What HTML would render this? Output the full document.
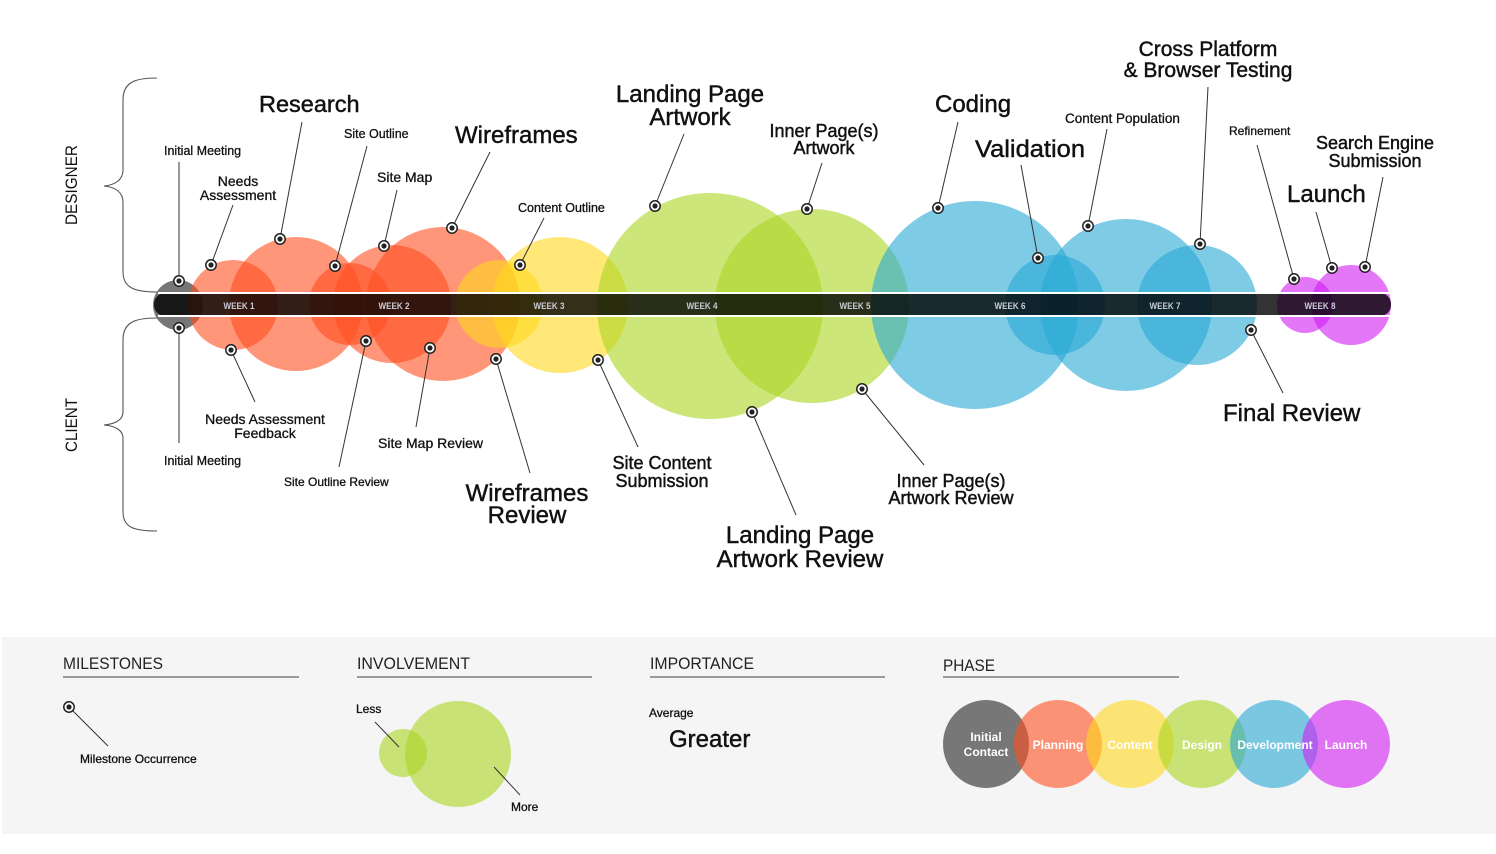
<!DOCTYPE html>
<html>
<head>
<meta charset="utf-8">
<style>
  html,body{margin:0;padding:0;background:#fff;}
  svg{display:block;}
  text{font-family:"Liberation Sans",sans-serif;fill:#111;}
  .lb text{stroke:#111;stroke-width:0.45;}
  .sm text{stroke:#111;stroke-width:0.3;}
</style>
</head>
<body>
<svg width="1496" height="854" viewBox="0 0 1496 854" xmlns="http://www.w3.org/2000/svg">
  <defs>
    <g id="m">
      <circle r="5.2" fill="#fff" stroke="#222" stroke-width="1.5"/>
      <circle r="2.6" fill="#222"/>
    </g>
  </defs>

  <!-- braces -->
  <path d="M157,78 C135,78 123,82 123,100 L123,170 C123,180 115,185 104,186 C115,187 123,192 123,202 L123,272 C123,288 135,292 157,292" fill="none" stroke="#555" stroke-width="1.1"/>
  <path d="M157,318 C135,318 123,322 123,340 L123,412 C123,420 115,424 104,425 C115,426 123,430 123,438 L123,512 C123,528 135,531 157,531" fill="none" stroke="#555" stroke-width="1.1"/>
  <text transform="translate(77,185) rotate(-90)" text-anchor="middle" font-size="17" textLength="80" lengthAdjust="spacingAndGlyphs">DESIGNER</text>
  <text transform="translate(77,425) rotate(-90)" text-anchor="middle" font-size="17" textLength="54" lengthAdjust="spacingAndGlyphs">CLIENT</text>

  <!-- circles -->
  <circle cx="178" cy="305" r="25" fill="#777"/>
  <g fill="#ff4f1f">
    <circle cx="233" cy="305" r="45" fill-opacity="0.6"/>
    <circle cx="296" cy="304" r="67" fill-opacity="0.6"/>
    <circle cx="350" cy="304" r="41" fill-opacity="0.6"/>
    <circle cx="392" cy="304" r="59" fill-opacity="0.6"/>
    <circle cx="443" cy="304" r="77" fill-opacity="0.6"/>
  </g>
  <g fill="#ffd91c">
    <circle cx="499" cy="304" r="44" fill-opacity="0.6"/>
    <circle cx="560" cy="305" r="68" fill-opacity="0.6"/>
  </g>
  <g fill="#aad521">
    <circle cx="710" cy="306" r="113" fill-opacity="0.6"/>
    <circle cx="812" cy="306" r="97" fill-opacity="0.6"/>
  </g>
  <g fill="#28a8d5">
    <circle cx="975" cy="305" r="104" fill-opacity="0.6"/>
    <circle cx="1055" cy="305" r="50" fill-opacity="0.6"/>
    <circle cx="1126" cy="305" r="86" fill-opacity="0.6"/>
    <circle cx="1197" cy="305" r="60" fill-opacity="0.6"/>
  </g>
  <g fill="#d01cf3">
    <circle cx="1305" cy="305" r="28" fill-opacity="0.6"/>
    <circle cx="1351" cy="305" r="40" fill-opacity="0.6"/>
  </g>

  <!-- bar -->
  <rect x="154" y="293" width="1237" height="23" rx="11" ry="11" fill="#000" fill-opacity="0.8"/>
  <rect x="158" y="292" width="1233" height="2" fill="#fff"/>
  <rect x="158" y="315" width="1233" height="2" fill="#fff"/>
  <g font-size="9.5" font-weight="bold" text-anchor="middle">
    <text x="239" y="309" textLength="31" lengthAdjust="spacingAndGlyphs" style="fill:#c9ccd6">WEEK 1</text>
    <text x="394" y="309" textLength="31" lengthAdjust="spacingAndGlyphs" style="fill:#c9ccd6">WEEK 2</text>
    <text x="549" y="309" textLength="31" lengthAdjust="spacingAndGlyphs" style="fill:#c9ccd6">WEEK 3</text>
    <text x="702" y="309" textLength="31" lengthAdjust="spacingAndGlyphs" style="fill:#c9ccd6">WEEK 4</text>
    <text x="855" y="309" textLength="31" lengthAdjust="spacingAndGlyphs" style="fill:#c9ccd6">WEEK 5</text>
    <text x="1010" y="309" textLength="31" lengthAdjust="spacingAndGlyphs" style="fill:#c9ccd6">WEEK 6</text>
    <text x="1165" y="309" textLength="31" lengthAdjust="spacingAndGlyphs" style="fill:#c9ccd6">WEEK 7</text>
    <text x="1320" y="309" textLength="31" lengthAdjust="spacingAndGlyphs" style="fill:#c9ccd6">WEEK 8</text>
  </g>

  <!-- connectors -->
  <g stroke="#333" stroke-width="1" fill="none">
    <line x1="179" y1="162" x2="179" y2="281"/>
    <line x1="233" y1="205" x2="211" y2="265"/>
    <line x1="302" y1="122" x2="280" y2="239"/>
    <line x1="367" y1="146" x2="335" y2="266"/>
    <line x1="397" y1="190" x2="384" y2="246"/>
    <line x1="490" y1="152" x2="452" y2="228"/>
    <line x1="544" y1="218" x2="520" y2="265"/>
    <line x1="684" y1="134" x2="655" y2="206"/>
    <line x1="822" y1="163" x2="807" y2="209"/>
    <line x1="958" y1="122" x2="938" y2="208"/>
    <line x1="1021" y1="165" x2="1038" y2="258"/>
    <line x1="1107" y1="129" x2="1088" y2="226"/>
    <line x1="1208" y1="87" x2="1200" y2="244"/>
    <line x1="1257" y1="145" x2="1294" y2="279"/>
    <line x1="1316" y1="212" x2="1332" y2="268"/>
    <line x1="1383" y1="177" x2="1365" y2="267"/>

    <line x1="231" y1="350" x2="255" y2="402"/>
    <line x1="366" y1="341" x2="339" y2="467"/>
    <line x1="430" y1="348" x2="416" y2="427"/>
    <line x1="496" y1="359" x2="530" y2="473"/>
    <line x1="598" y1="360" x2="638" y2="447"/>
    <line x1="752" y1="412" x2="796" y2="515"/>
    <line x1="862" y1="389" x2="924" y2="465"/>
    <line x1="1251" y1="330" x2="1283" y2="393"/>
  </g>
  <line x1="179" y1="328" x2="179" y2="443" stroke="#999" stroke-width="2"/>

  <!-- markers -->
  <use href="#m" x="179" y="281"/>
  <use href="#m" x="211" y="265"/>
  <use href="#m" x="280" y="239"/>
  <use href="#m" x="335" y="266"/>
  <use href="#m" x="384" y="246"/>
  <use href="#m" x="452" y="228"/>
  <use href="#m" x="520" y="265"/>
  <use href="#m" x="655" y="206"/>
  <use href="#m" x="807" y="209"/>
  <use href="#m" x="938" y="208"/>
  <use href="#m" x="1038" y="258"/>
  <use href="#m" x="1088" y="226"/>
  <use href="#m" x="1200" y="244"/>
  <use href="#m" x="1294" y="279"/>
  <use href="#m" x="1332" y="268"/>
  <use href="#m" x="1365" y="267"/>

  <use href="#m" x="179" y="328"/>
  <use href="#m" x="231" y="350"/>
  <use href="#m" x="366" y="341"/>
  <use href="#m" x="430" y="348"/>
  <use href="#m" x="496" y="359"/>
  <use href="#m" x="598" y="360"/>
  <use href="#m" x="752" y="412"/>
  <use href="#m" x="862" y="389"/>
  <use href="#m" x="1251" y="330"/>

  <!-- designer labels -->
  <g class="sm">
    <text x="164" y="155" font-size="12.5">Initial Meeting</text>
    <text x="238" y="186" font-size="14" text-anchor="middle">Needs</text>
    <text x="238" y="200" font-size="14" text-anchor="middle">Assessment</text>
    <text x="344" y="138" font-size="12.5">Site Outline</text>
    <text x="377" y="182" font-size="14">Site Map</text>
    <text x="518" y="212" font-size="12.5">Content Outline</text>
    <text x="1065" y="123" font-size="13.5">Content Population</text>
    <text x="1229" y="135" font-size="12">Refinement</text>
  </g>
  <g class="lb">
    <text x="259" y="112" font-size="23.5">Research</text>
    <text x="455" y="143" font-size="24">Wireframes</text>
    <text x="690" y="102" font-size="24" text-anchor="middle">Landing Page</text>
    <text x="690" y="125" font-size="24" text-anchor="middle">Artwork</text>
    <text x="824" y="137" font-size="18" text-anchor="middle">Inner Page(s)</text>
    <text x="824" y="154" font-size="18" text-anchor="middle">Artwork</text>
    <text x="935" y="112" font-size="24">Coding</text>
    <text x="975" y="157" font-size="24" textLength="110" lengthAdjust="spacingAndGlyphs">Validation</text>
    <text x="1208" y="56" font-size="21" text-anchor="middle">Cross Platform</text>
    <text x="1208" y="77" font-size="21" text-anchor="middle">&amp; Browser Testing</text>
    <text x="1375" y="149" font-size="18" text-anchor="middle">Search Engine</text>
    <text x="1375" y="167" font-size="18" text-anchor="middle">Submission</text>
    <text x="1287" y="202" font-size="24">Launch</text>
  </g>

  <!-- client labels -->
  <g class="sm">
    <text x="164" y="465" font-size="12.5">Initial Meeting</text>
    <text x="265" y="424" font-size="14" text-anchor="middle">Needs Assessment</text>
    <text x="265" y="438" font-size="14" text-anchor="middle">Feedback</text>
    <text x="284" y="486" font-size="12">Site Outline Review</text>
    <text x="378" y="448" font-size="14">Site Map Review</text>
  </g>
  <g class="lb">
    <text x="527" y="501" font-size="24" text-anchor="middle">Wireframes</text>
    <text x="527" y="523" font-size="24" text-anchor="middle">Review</text>
    <text x="662" y="469" font-size="18" text-anchor="middle">Site Content</text>
    <text x="662" y="487" font-size="18" text-anchor="middle">Submission</text>
    <text x="800" y="543" font-size="24" text-anchor="middle">Landing Page</text>
    <text x="800" y="567" font-size="24" text-anchor="middle">Artwork Review</text>
    <text x="951" y="487" font-size="18" text-anchor="middle">Inner Page(s)</text>
    <text x="951" y="504" font-size="18" text-anchor="middle">Artwork Review</text>
    <text x="1223" y="421" font-size="24">Final Review</text>
  </g>

  <!-- legend -->
  <rect x="2" y="637" width="1494" height="197" fill="#f5f5f5"/>
  <text x="63" y="669" font-size="17" textLength="100" lengthAdjust="spacingAndGlyphs" style="fill:#222">MILESTONES</text>
  <text x="357" y="669" font-size="17" textLength="113" lengthAdjust="spacingAndGlyphs" style="fill:#222">INVOLVEMENT</text>
  <text x="650" y="669" font-size="17" textLength="104" lengthAdjust="spacingAndGlyphs" style="fill:#222">IMPORTANCE</text>
  <text x="943" y="671" font-size="17" textLength="52" lengthAdjust="spacingAndGlyphs" style="fill:#222">PHASE</text>
  <rect x="63" y="676" width="236" height="2" fill="#9a9a9a"/>
  <rect x="357" y="676" width="235" height="2" fill="#9a9a9a"/>
  <rect x="650" y="676" width="235" height="2" fill="#9a9a9a"/>
  <rect x="943" y="676" width="236" height="2" fill="#9a9a9a"/>

  <line x1="69" y1="707" x2="108" y2="746" stroke="#333" stroke-width="1"/>
  <use href="#m" x="69" y="707"/>

  <circle cx="403" cy="753" r="24" fill="#aad521" fill-opacity="0.6"/>
  <circle cx="458" cy="754" r="53" fill="#aad521" fill-opacity="0.6"/>
  <line x1="375" y1="722" x2="399" y2="747" stroke="#333" stroke-width="1"/>
  <line x1="494" y1="767" x2="520" y2="795" stroke="#333" stroke-width="1"/>

  <g class="sm">
    <text x="80" y="763" font-size="12">Milestone Occurrence</text>
    <text x="356" y="713" font-size="12">Less</text>
    <text x="511" y="811" font-size="12">More</text>
    <text x="649" y="717" font-size="12">Average</text>
  </g>
  <g class="lb">
    <text x="669" y="747" font-size="24">Greater</text>
  </g>

  <ellipse cx="986" cy="744" rx="43" ry="44" fill="#777"/>
  <ellipse cx="1058" cy="744" rx="44" ry="44" fill="#ff4f1f" fill-opacity="0.6"/>
  <ellipse cx="1130" cy="744" rx="44" ry="44" fill="#ffd91c" fill-opacity="0.6"/>
  <ellipse cx="1202" cy="744" rx="44" ry="44" fill="#aad521" fill-opacity="0.6"/>
  <ellipse cx="1274" cy="744" rx="44" ry="44" fill="#28a8d5" fill-opacity="0.6"/>
  <ellipse cx="1346" cy="744" rx="44" ry="44" fill="#d01cf3" fill-opacity="0.6"/>
  <g font-size="12" font-weight="bold" text-anchor="middle">
    <text x="986" y="741" style="fill:#fff">Initial</text>
    <text x="986" y="756" style="fill:#fff">Contact</text>
    <text x="1058" y="749" style="fill:#fff">Planning</text>
    <text x="1130" y="749" style="fill:#fff">Content</text>
    <text x="1202" y="749" style="fill:#fff">Design</text>
    <text x="1275" y="749" style="fill:#fff">Development</text>
    <text x="1346" y="749" style="fill:#fff">Launch</text>
  </g>
</svg>
</body>
</html>
